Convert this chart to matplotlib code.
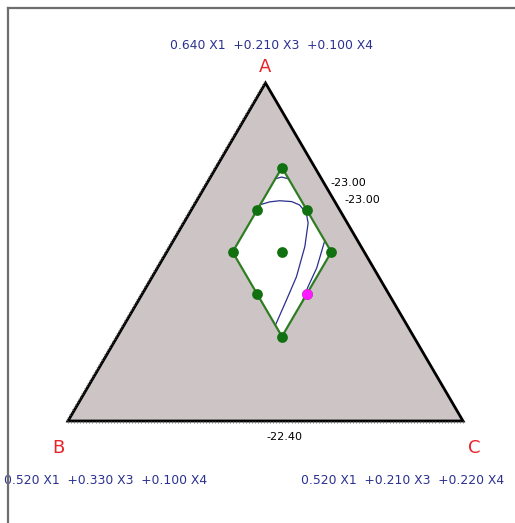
import numpy as np
import matplotlib.pyplot as plt
from matplotlib.patches import Polygon

# mixture vertices (X1, X3, X4); X2 fixed at 0.05
vertex_names = ["A", "B", "C"]
vertex_x1 = [0.640, 0.520, 0.520]
vertex_x3 = [0.210, 0.330, 0.210]
vertex_x4 = [0.100, 0.100, 0.220]

# design points (X3, X4), X1 = 0.95 - X3 - X4
design_x3 = [0.220, 0.235, 0.220, 0.250, 0.235, 0.220, 0.250, 0.250, 0.235]
design_x4 = [0.120, 0.120, 0.135, 0.120, 0.135, 0.150, 0.135, 0.150, 0.150]
highlight_x3 = [0.235]
highlight_x4 = [0.150]

# region outline (top, left, bottom, right)
region_x3 = [0.220, 0.250, 0.250, 0.220, 0.220]
region_x4 = [0.120, 0.120, 0.150, 0.150, 0.120]

# contour lines
contour_small_x3 = [0.2240, 0.2218, 0.2200]
contour_small_x4 = [0.1200, 0.1216, 0.1240]
contour_big_x3 = [0.2332, 0.2298, 0.2266, 0.2231, 0.2213, 0.2207, 0.2219, 0.2271, 0.2350, 0.2422, 0.2500]
contour_big_x4 = [0.1200, 0.1224, 0.1252, 0.1290, 0.1320, 0.1355, 0.1378, 0.1410, 0.1438, 0.1449, 0.1460]
contour_right_x3 = [0.2200, 0.2273, 0.2334, 0.2375]
contour_right_x4 = [0.1460, 0.1484, 0.1491, 0.1500]

contour_labels = ["-23.00", "-23.00", "-22.40"]

LO, SPAN = (0.52, 0.21, 0.10), 0.12
H = np.sqrt(3) / 2


def to_xy(x3, x4):
    """mixture -> cartesian, B at (0,0), C at (1,0), A at top"""
    x3 = np.asarray(x3, float)
    x4 = np.asarray(x4, float)
    x1 = 0.95 - x3 - x4
    a = (x1 - LO[0]) / SPAN
    c = (x4 - LO[2]) / SPAN
    return c + a / 2, a * H


fig = plt.figure(figsize=(5.15, 5.23), dpi=100)
ax = fig.add_axes([0, 0, 1, 1])
ax.set_xlim(-68 / 395, (515 - 68) / 395)
ax.set_ylim((421 - 523) * H / 338, 421 * H / 338)
ax.axis("off")

# frame lines (left and top)
fig.add_artist(plt.Line2D([7.5 / 515, 7.5 / 515], [0, 1 - 7.5 / 523], color="#6e6e6e", lw=1.6))
fig.add_artist(plt.Line2D([7.5 / 515, 1], [1 - 7.5 / 523, 1 - 7.5 / 523], color="#6e6e6e", lw=1.6))

vx, vy = to_xy(vertex_x3, vertex_x4)
ax.add_patch(Polygon(np.column_stack([vx, vy]), closed=True, facecolor="#cdc5c5",
                     edgecolor="black", lw=2.0, zorder=1))

# fine hatch ticks outside left and bottom edges
t = np.linspace(0, 1, 130)
d = 0.005
lx = vx[1] + (vx[0] - vx[1]) * t
ly = vy[1] + (vy[0] - vy[1]) * t
ax.plot(np.column_stack([lx, lx - d * H]).T, np.column_stack([ly, ly + d * 0.5]).T,
        color="#666666", lw=0.4, zorder=1)
bx = vx[1] + (vx[2] - vx[1]) * t
ax.plot(np.column_stack([bx, bx]).T, np.column_stack([bx * 0, bx * 0 - d]).T,
        color="#666666", lw=0.4, zorder=1)

rx, ry = to_xy(region_x3, region_x4)
ax.fill(rx, ry, color="white", zorder=2)
ax.plot(rx, ry, color="#2e7d22", lw=1.6, zorder=4)

for cx3, cx4 in [(contour_small_x3, contour_small_x4), (contour_big_x3, contour_big_x4),
                 (contour_right_x3, contour_right_x4)]:
    px, py = to_xy(cx3, cx4)
    ax.plot(px, py, color="#2a2f8c", lw=0.9, zorder=3)

dx, dy = to_xy(design_x3, design_x4)
ax.scatter(dx, dy, s=60, color="#11700f", zorder=5, linewidths=0)
hx, hy = to_xy(highlight_x3, highlight_x4)
ax.scatter(hx, hy, s=60, color="#ff1aff", zorder=6, linewidths=0)

# contour labels on edges
ax.text(0.709, 0.610, contour_labels[0], fontsize=8, ha="center", va="center")
ax.text(0.744, 0.566, contour_labels[1], fontsize=8, ha="center", va="center")
ax.text(0.547, -0.041, contour_labels[2], fontsize=8, ha="center", va="center")


# vertex letters and compositions
def comp(i):
    return f"{vertex_x1[i]:.3f} X1  +{vertex_x3[i]:.3f} X3  +{vertex_x4[i]:.3f} X4"


red = "#e8232a"
navy = "#2b3190"
ax.text(vx[0], vy[0] + 0.04, vertex_names[0], color=red, fontsize=13, ha="center", va="center")
ax.text(vx[1] - 0.025, -0.07, vertex_names[1], color=red, fontsize=13, ha="center", va="center")
ax.text(vx[2] + 0.028, -0.07, vertex_names[2], color=red, fontsize=13, ha="center", va="center")
ax.text(0.514, 0.963, comp(0), color=navy, fontsize=8.9, ha="center", va="center")
ax.text(0.0949, -0.1537, comp(1), color=navy, fontsize=8.9, ha="center", va="center")
ax.text(0.848, -0.1537, comp(2), color=navy, fontsize=8.9, ha="center", va="center")

fig.savefig("out.png", dpi=100)
